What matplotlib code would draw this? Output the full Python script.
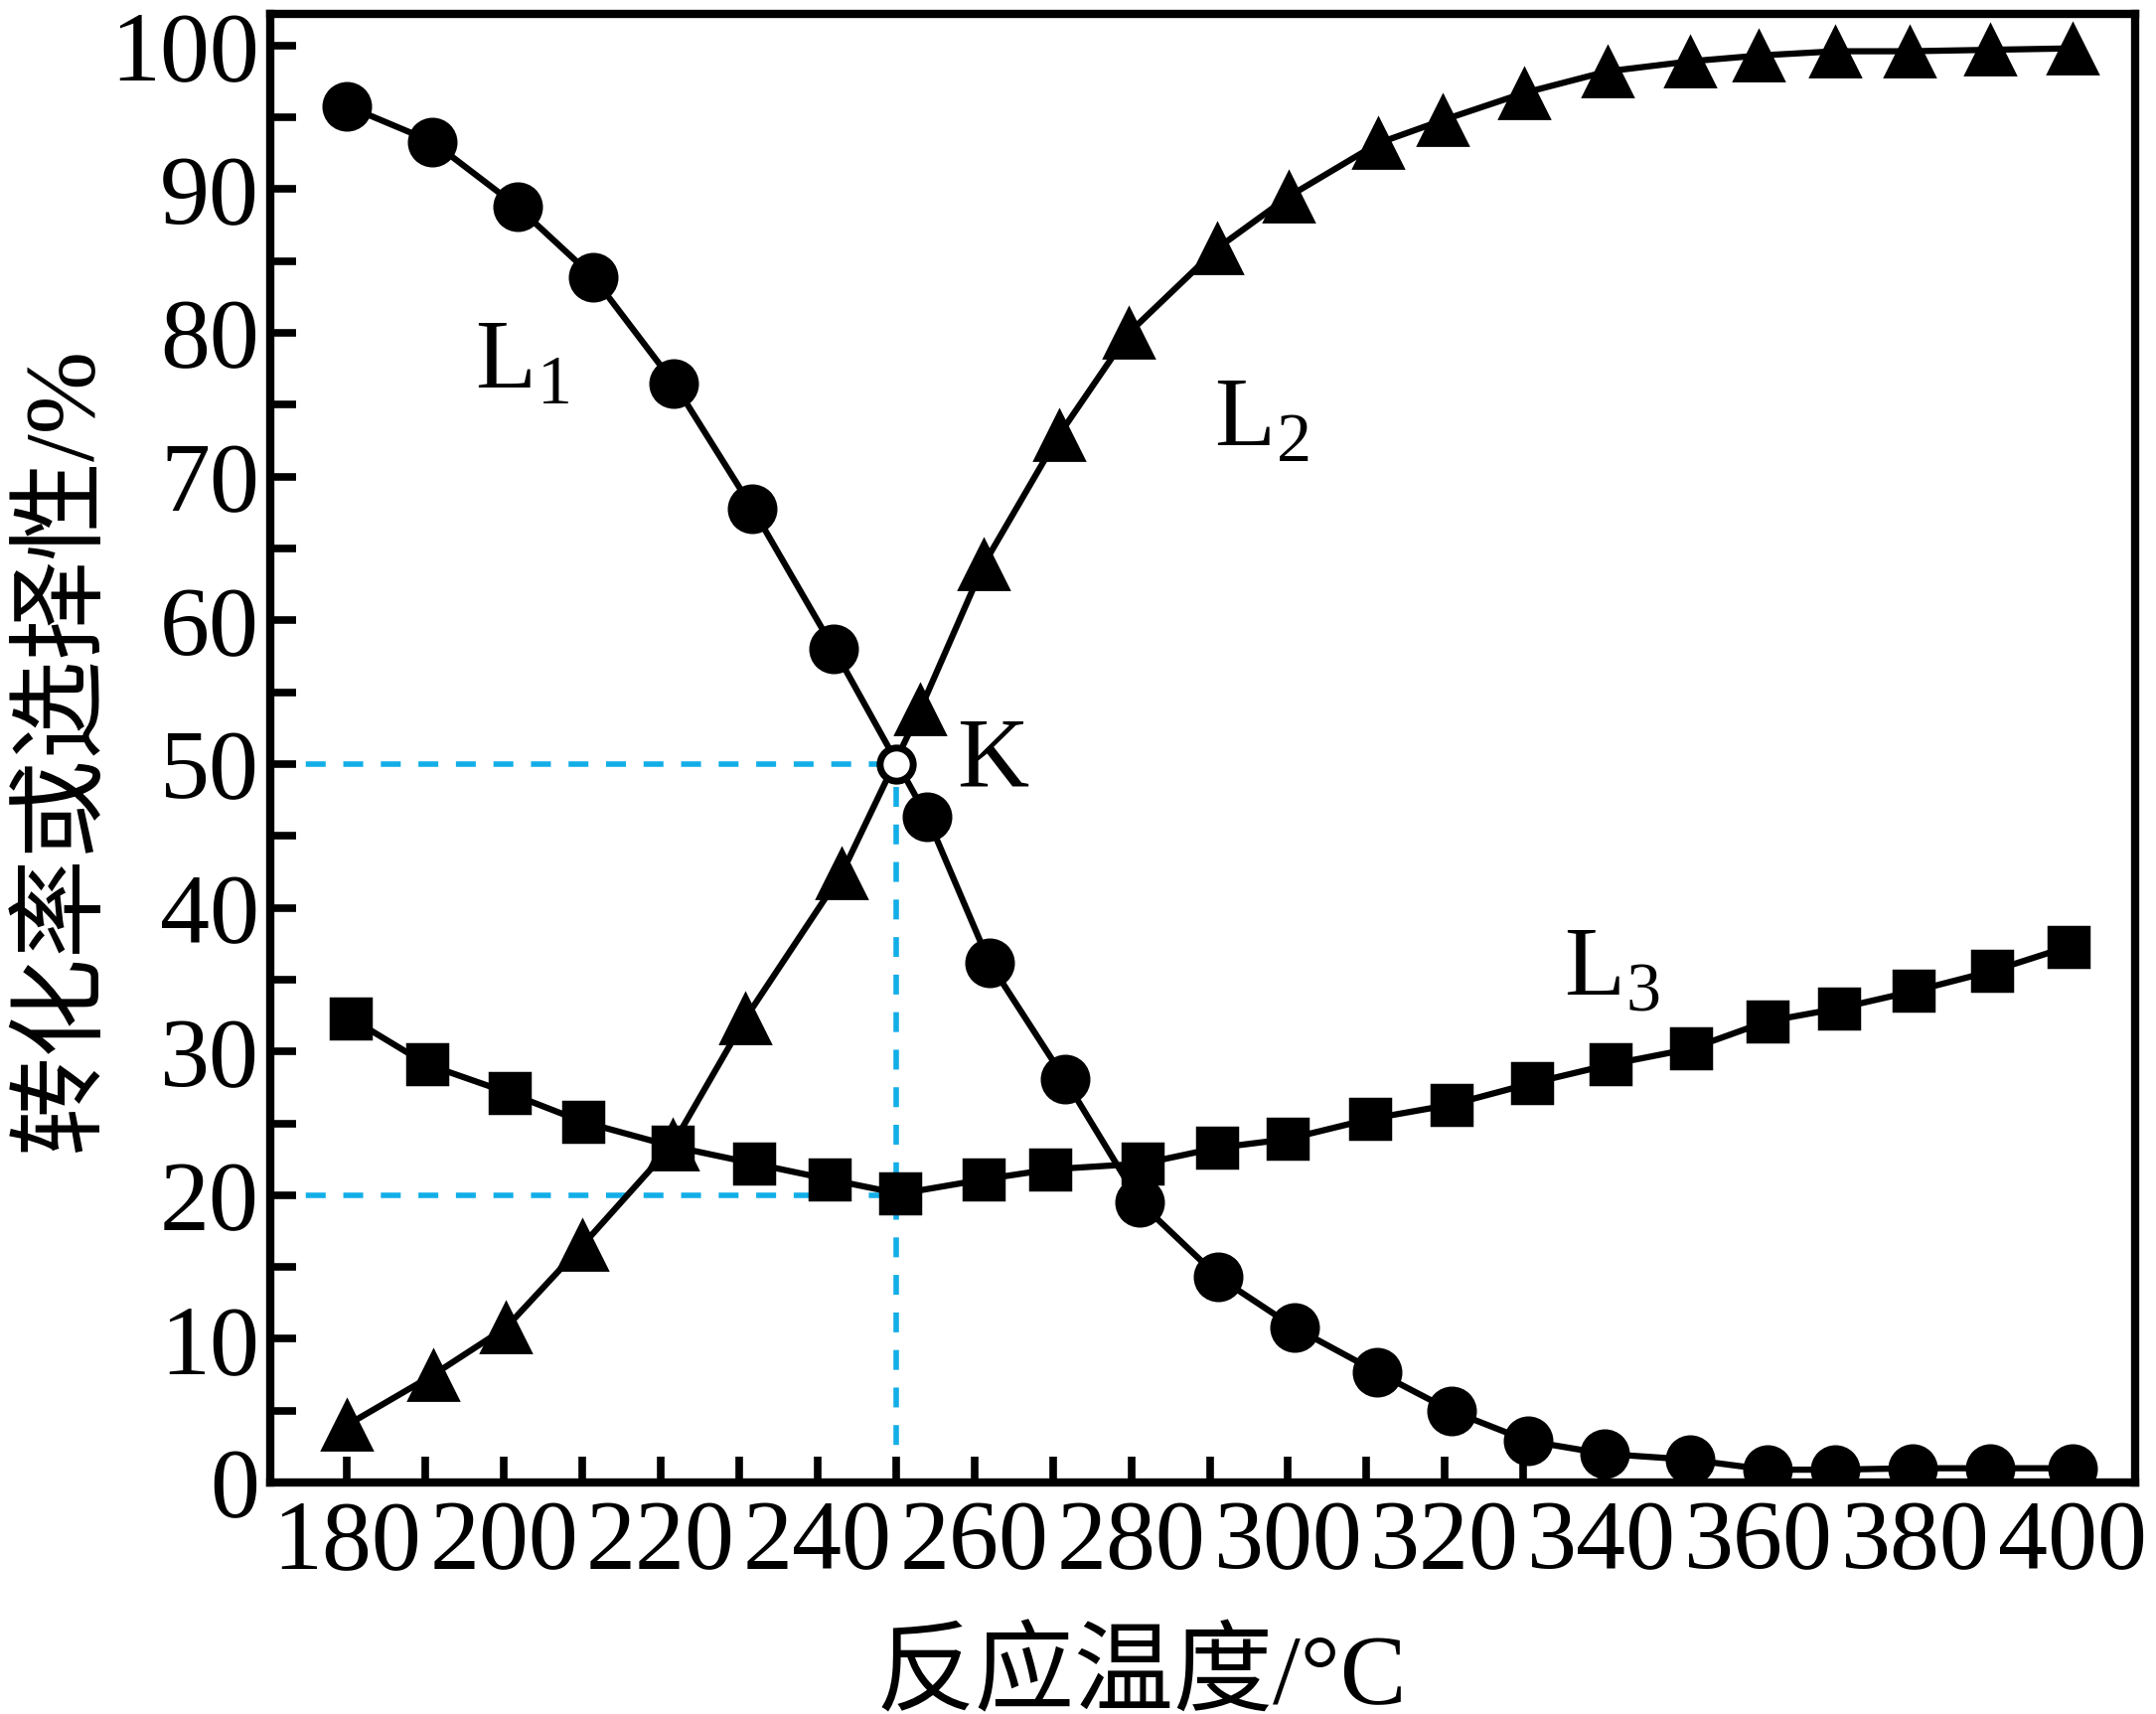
import matplotlib
matplotlib.use('Agg')
import matplotlib.pyplot as plt
from matplotlib.ticker import MultipleLocator

plt.rcParams['font.family'] = ['Liberation Serif', 'Noto Sans CJK SC', 'DejaVu Sans']
plt.rcParams['mathtext.fontset'] = 'custom'
plt.rcParams['mathtext.rm'] = 'Liberation Serif'

# L1: conversion curve (circles)
l1_x = [180, 190.9, 201.7, 211.4, 221.7, 231.7, 242.1, 254, 261.9, 271.5, 281.1, 291.1,
        300.8, 311.3, 320.8, 330.6, 340.4, 351.2, 361.1, 369.8, 379.6, 389.5, 400]
l1_y = [95.8, 93.3, 88.8, 83.9, 76.5, 67.8, 58.0, 46.3, 36.2, 28.1, 19.5, 14.3,
        10.8, 7.7, 5.0, 2.9, 2.0, 1.6, 0.9, 0.9, 1.0, 1.0, 1.0]

# L2: triangles
l2_x = [180, 191.0, 200.3, 210, 221.5, 230.8, 243.1, 253.1, 261.2, 270.8, 279.7, 291,
        300.1, 311.5, 319.7, 330.1, 340.7, 351.3, 360, 369.8, 379.3, 389.5, 400]
l2_y = [4.0, 7.5, 10.8, 16.5, 23.5, 32.3, 42.4, 53.8, 63.9, 72.9, 80.0, 85.9,
        89.5, 93.2, 94.8, 96.7, 98.2, 98.9, 99.3, 99.6, 99.6, 99.7, 99.8]

# L3: squares
l3_x = [180.5, 190.2, 200.7, 210.1, 221.5, 231.9, 241.5, 250.5, 261.2, 269.7, 281.5, 291,
        299.9, 310.4, 320.8, 331.1, 341.1, 351.4, 361.1, 370.2, 379.8, 389.8, 399.5]
l3_y = [32.3, 29.1, 27.1, 25.1, 23.4, 22.2, 21.1, 20.1, 21.1, 21.8, 22.2, 23.3,
        23.9, 25.3, 26.3, 27.8, 29.1, 30.2, 32.1, 33.0, 34.2, 35.6, 37.3]

k_x, k_y = 250, 50
ref_y = [50, 20]

fig = plt.figure(figsize=(21.7, 17.25), dpi=100)
ax = fig.add_subplot()
fig.subplots_adjust(left=0.1253, right=0.9903, bottom=0.135, top=0.9919)

blue = '#12aee8'
# guide lines to point K and the L3 minimum
for yv in ref_y:
    ax.plot([170, k_x], [yv, yv], color=blue, lw=4, dashes=(3.6, 3.2), zorder=1)
ax.plot([k_x, k_x], [0, k_y], color=blue, lw=4, dashes=(3.6, 3.2), zorder=1)

ax.plot(l1_x, l1_y, color='black', lw=4.5, marker='o', markersize=35, zorder=3)
ax.plot(l2_x, l2_y, color='black', lw=4.5, marker='^', markersize=36,
        markeredgewidth=2, markeredgecolor='black', zorder=3)
ax.plot(l3_x, l3_y, color='black', lw=4.5, marker='s', markersize=29,
        markeredgewidth=2.5, zorder=3)
ax.plot([k_x], [k_y], marker='o', markersize=24, markerfacecolor='white',
        markeredgecolor='black', markeredgewidth=5, zorder=4)

ax.text(202.3, 77.8, r'L$_1$', fontsize=72, ha='center', va='center')
ax.text(296.6, 73.9, r'L$_2$', fontsize=72, ha='center', va='center')
ax.text(341.3, 35.6, r'L$_3$', fontsize=72, ha='center', va='center')
ax.text(262.4, 50.2, 'K', fontsize=72, ha='center', va='center')

ax.set_xlim(170.2, 408)
ax.set_ylim(0, 102.2)
ax.xaxis.set_major_locator(MultipleLocator(20))
ax.xaxis.set_minor_locator(MultipleLocator(10))
ax.yaxis.set_major_locator(MultipleLocator(10))
ax.yaxis.set_minor_locator(MultipleLocator(5))
ax.tick_params(which='both', direction='in', length=19, width=5.5, labelsize=72, pad=8)
ax.tick_params(axis='x', which='both', pad=12)
for s in ax.spines.values():
    s.set_linewidth(6)

# axis titles placed on the figure
fig.text(0.5295, 0.021, '反应温度/°C', fontsize=72, ha='center', va='center')
fig.text(0.03, 0.563, '转化率或选择性/%', fontsize=72, ha='center', va='center',
         rotation=90)

fig.savefig('out.png', dpi=100)
